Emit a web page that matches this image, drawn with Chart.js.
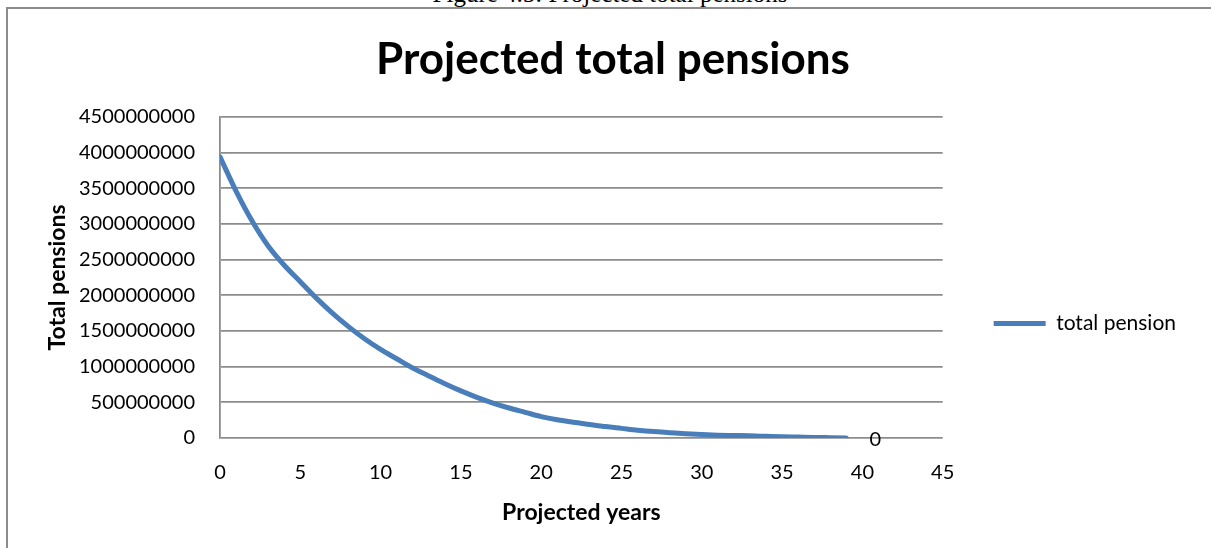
<!DOCTYPE html>
<html>
<head>
<meta charset="utf-8">
<title>Projected total pensions</title>
<script src="https://cdn.jsdelivr.net/npm/chart.js@4.4.1/dist/chart.umd.min.js"></script>
<style>
  html, body { margin: 0; padding: 0; background: #fff; overflow: hidden; }
  #wrap { position: relative; width: 1211px; height: 548px; }
  #caption {
    position: absolute; left: 0; width: 1220px; top: -20px;
    text-align: center; font: 25px "Liberation Serif", serif; color: #000;
  }
  #frame {
    position: absolute; left: 6px; top: 7px; width: 1300px; height: 600px;
    border-left: 2px solid #8c8c8c; border-top: 2px solid #8c8c8c;
  }
  canvas { position: absolute; left: 0; top: 0; }
</style>
</head>
<body>
<div id="wrap">
  <div id="caption">Figure 4.5: Projected total pensions</div>
  <div id="frame"></div>
  <canvas id="pensionChart" width="1211" height="548"></canvas>
</div>
<script>
// projection horizon (years from start) and total pension paid out
const years = [
  0, 1, 2, 3, 4, 5, 6, 7, 8, 9,
  10, 11, 12, 13, 14, 15, 16, 17, 18, 19,
  20, 21, 22, 23, 24, 25, 26, 27, 28, 29,
  30, 31, 32, 33, 34, 35, 36, 37, 38, 39
];
const totalPension = [
  3940000000, 3460000000, 3040000000, 2690000000, 2420000000,
  2190000000, 1960000000, 1750000000, 1560000000, 1390000000,
  1240000000, 1110000000, 980000000, 870000000, 760000000,
  660000000, 570000000, 490000000, 420000000, 360000000,
  300000000, 255000000, 220000000, 190000000, 160000000,
  135000000, 110000000, 90000000, 75000000, 60000000,
  48000000, 40000000, 35000000, 30000000, 24000000,
  18000000, 13000000, 8000000, 4000000, 0
];
const xTicks = [0, 5, 10, 15, 20, 25, 30, 35, 40, 45];
const yTicks = [0, 500000000, 1000000000, 1500000000, 2000000000,
  2500000000, 3000000000, 3500000000, 4000000000, 4500000000];

const GRID = '#8c8c8c';
const FONT = 'Lato, "Open Sans", sans-serif';

// value label at the final point of the series
const lastValueLabel = {
  id: 'lastValueLabel',
  afterDatasetsDraw(chart) {
    const meta = chart.getDatasetMeta(0);
    const i = meta.data.length - 1;
    const pt = meta.data[i];
    const { ctx } = chart;
    ctx.save();
    ctx.font = '20px ' + FONT;
    ctx.fillStyle = '#000';
    ctx.textAlign = 'center';
    ctx.textBaseline = 'middle';
    ctx.fillText(String(chart.data.datasets[0].data[i].y), pt.x + 29, pt.y + 2);
    ctx.restore();
  }
};

// push the side legend down a bit so it sits near the middle of the whole figure
const legendOffset = {
  id: 'legendOffset',
  afterLayout(chart) {
    if (!chart.legend) return;
    chart.legend.top += 46;
    chart.legend.bottom += 46;
  }
};

new Chart(document.getElementById('pensionChart'), {
  type: 'line',
  data: {
    datasets: [{
      label: 'total pension',
      data: years.map((y, i) => ({ x: y, y: totalPension[i] })),
      borderColor: '#4a7ebb',
      backgroundColor: '#4a7ebb',
      borderWidth: 5,
      borderCapStyle: 'round',
      borderJoinStyle: 'round',
      pointRadius: 0,
      cubicInterpolationMode: 'monotone'
    }]
  },
  options: {
    responsive: false,
    animation: false,
    devicePixelRatio: 1,
    layout: { padding: { left: 40, right: 25, top: 0, bottom: 0 } },
    plugins: {
      title: {
        display: true,
        text: 'Projected total pensions',
        color: '#000',
        font: { family: FONT, size: 44, weight: 'bold', lineHeight: 1.2 },
        padding: { top: 33, bottom: 31 }
      },
      legend: {
        display: true,
        position: 'right',
        fullSize: false,
        labels: {
          usePointStyle: true,
          pointStyle: 'line',
          pointStyleWidth: 52,
          padding: 51,
          color: '#000',
          font: { family: FONT, size: 21 }
        }
      },
      tooltip: { enabled: false }
    },
    scales: {
      x: {
        type: 'linear',
        min: 0,
        max: 45,
        afterBuildTicks: (s) => { s.ticks = xTicks.map(v => ({ value: v })); },
        afterFit: (s) => { s.height = 110; },
        grid: { display: false, drawTicks: false },
        border: { display: false },
        ticks: {
          padding: 23,
          color: '#000',
          font: { family: FONT, size: 20 },
          maxRotation: 0
        },
        title: {
          display: true,
          text: 'Projected years',
          color: '#000',
          font: { family: FONT, size: 23, weight: 'bold', lineHeight: 1.2 },
          padding: { top: 0, bottom: 22 }
        }
      },
      y: {
        min: 0,
        max: 4500000000,
        afterBuildTicks: (s) => { s.ticks = yTicks.map(v => ({ value: v })); },
        afterFit: (s) => { s.width = 180; },
        grid: { color: GRID, lineWidth: 1.8, drawTicks: false },
        border: { display: true, color: GRID, width: 1.8 },
        ticks: {
          padding: 25,
          color: '#000',
          font: { family: FONT, size: 20 },
          callback: (v) => String(v)
        },
        title: {
          display: true,
          text: 'Total pensions',
          color: '#000',
          font: { family: FONT, size: 23, weight: 'bold', lineHeight: 1.2 },
          padding: { top: 4, bottom: 0 }
        }
      }
    }
  },
  plugins: [lastValueLabel, legendOffset]
});
</script>
</body>
</html>
